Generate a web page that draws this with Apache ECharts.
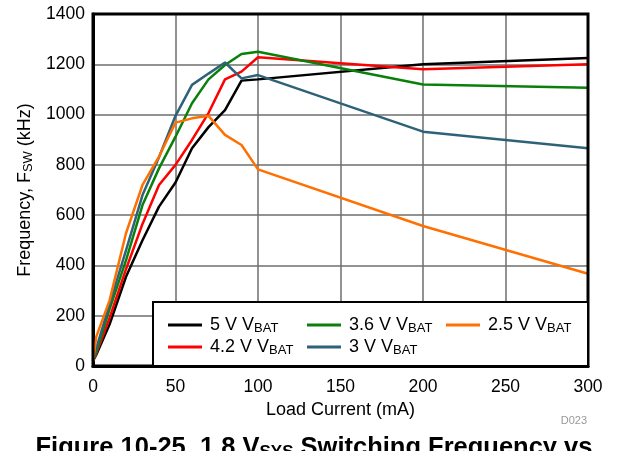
<!DOCTYPE html>
<html><head><meta charset="utf-8">
<script src="https://cdn.jsdelivr.net/npm/echarts@6/dist/echarts.min.js"></script>
<style>html,body{margin:0;padding:0;background:#fff}#c{width:628px;height:451px}</style>
</head><body><div id="c"></div>
<script>
const loadCurrent = [0, 2, 10, 20, 30, 40, 50, 60, 70, 80, 90, 100, 200, 300];
const v5 =   [20, 45, 165, 355, 500, 634, 730, 866, 950, 1018, 1135, 1140, 1200, 1225];
const v42 =  [20, 50, 190, 385, 565, 720, 800, 899, 1006, 1140, 1171, 1228, 1180, 1200];
const v36 =  [20, 55, 225, 420, 640, 786, 912, 1045, 1140, 1197, 1241, 1250, 1120, 1107];
const v3 =   [20, 70, 245, 460, 680, 830, 995, 1118, 1163, 1207, 1144, 1157, 932, 866];
const v25 =  [20, 117, 260, 528, 720, 833, 968, 985, 995, 919, 879, 782, 557, 367];
const seriesNames = ['5 V', '4.2 V', '3.6 V', '3 V', '2.5 V'];
const seriesColors = ['#000000', '#ff0000', '#0a800a', '#2e6279', '#ff7000'];
const xTicks = [0, 50, 100, 150, 200, 250, 300];
const yTicks = [0, 200, 400, 600, 800, 1000, 1200, 1400];

const font = 'Liberation Sans, Arial, sans-serif';
const allData = [v5, v42, v36, v3, v25];
const series = seriesNames.map((n, i) => ({
  name: n, type: 'line', symbol: 'none', z: 3,
  lineStyle: {width: 2.5, color: seriesColors[i]},
  itemStyle: {color: seriesColors[i]},
  data: loadCurrent.map((x, j) => [x, allData[i][j]])
}));

const legendRich = {
  a: {fontSize: 18, fontFamily: font, color: '#000'},
  s: {fontSize: 13, fontFamily: font, color: '#000', verticalAlign: 'bottom', padding: [7, 0, 0, 0]}
};
const legendPos = {
  '5 V': [168, 316], '3.6 V': [307, 316], '2.5 V': [446, 316],
  '4.2 V': [168, 338], '3 V': [307, 338]
};
const legends = seriesNames.map(n => ({
  data: [n], left: legendPos[n][0], top: legendPos[n][1], z: 30, zlevel: 1,
  icon: 'rect', itemWidth: 34, itemHeight: 3, itemGap: 10, padding: 0,
  formatter: name => '{a|' + name + ' V}{s|BAT}',
  textStyle: {rich: legendRich, fontFamily: font, fontSize: 18, padding: [0, 0, 0, 3]}
}));

const chart = echarts.init(document.getElementById('c'), null, {renderer: 'canvas'});
chart.setOption({
  animation: false,
  backgroundColor: '#fff',
  title: {
    text: '{b|Figure 10-25. 1.8 V}{s|SYS}{b| Switching Frequency vs}',
    left: 'center', top: 429,
    textStyle: {rich: {
      b: {fontSize: 25.5, fontWeight: 'bold', fontFamily: font, color: '#000'},
      s: {fontSize: 17, fontWeight: 'bold', fontFamily: font, color: '#000', verticalAlign: 'bottom', padding: [10, 0, 0, 0]}
    }}
  },
  graphic: [
    {type: 'rect', shape: {x: 153, y: 302, width: 435, height: 64}, style: {fill: '#fff', stroke: '#000', lineWidth: 2}, z: 10},
    {type: 'text', right: 41, top: 415, style: {text: 'D023', fontSize: 11, fill: '#999', fontFamily: font}}
  ],
  legend: legends,
  grid: {left: 93, right: 40, top: 14, bottom: 85, show: true, borderColor: '#000', borderWidth: 3, z: 4},
  xAxis: {
    type: 'value', min: 0, max: 300, interval: 50,
    name: 'Load Current (mA)', nameLocation: 'middle', nameGap: 35,
    nameTextStyle: {fontSize: 18, fontFamily: font, color: '#000'},
    axisLine: {show: true, lineStyle: {color: '#000', width: 3}},
    axisTick: {show: false},
    axisLabel: {fontSize: 17.5, fontFamily: font, color: '#000', margin: 12,
      formatter: v => xTicks.includes(v) ? String(v) : ''},
    splitLine: {show: true, lineStyle: {color: '#6e6e6e', width: 1.5}}
  },
  yAxis: {
    type: 'value', min: 0, max: 1400, interval: 200,
    name: '{a|Frequency, F}{s|SW}{a| (kHz)}', nameLocation: 'middle', nameGap: 56, nameRotate: 90,
    nameTextStyle: {rich: {
      a: {fontSize: 18, fontFamily: font, color: '#000'},
      s: {fontSize: 13, fontFamily: font, color: '#000', verticalAlign: 'bottom', padding: [7, 0, 0, 0]}
    }},
    axisLine: {show: true, lineStyle: {color: '#000', width: 3}},
    axisTick: {show: false},
    axisLabel: {fontSize: 17.5, fontFamily: font, color: '#000', margin: 8,
      formatter: v => yTicks.includes(v) ? String(v) : ''},
    splitLine: {show: true, lineStyle: {color: '#6e6e6e', width: 1.5}}
  },
  series: series
});
</script></body></html>
